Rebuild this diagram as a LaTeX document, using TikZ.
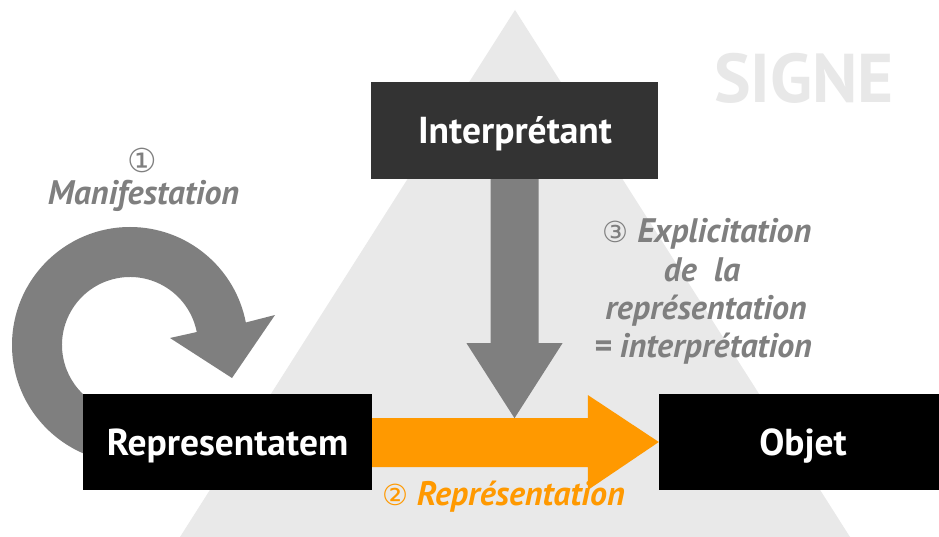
\documentclass[tikz,border=0pt]{standalone}
\usepackage{fontspec}
\setmainfont{PT Sans}
\newfontfamily\symfont{DejaVu Sans}
\usetikzlibrary{calc}
\definecolor{tri}{RGB}{233,233,233}
\definecolor{darkbox}{RGB}{51,51,51}
\definecolor{arrgray}{RGB}{127,127,127}
\definecolor{orng}{RGB}{255,153,0}
\definecolor{signe}{RGB}{232,232,232}
\begin{document}
\begin{tikzpicture}[x=1pt,y=-1pt,
  box/.style={inner sep=0pt, text=white, font=\fontsize{37.5}{40}\selectfont\bfseries},
  lbl/.style={inner sep=0pt, anchor=base, text=arrgray, font=\fontsize{34}{38}\selectfont\bfseries\itshape},
  circnum/.style={inner sep=0pt, font=\symfont\fontsize{33}{36}\selectfont}
]
\useasboundingbox (0,0) rectangle (939,537);
\fill[white] (0,0) rectangle (939,537);
% triangle
\fill[tri] (515,10) -- (850,537) -- (180,537) -- cycle;
\node[inner sep=0pt, anchor=base, text=signe, font=\fontsize{69}{72}\selectfont\bfseries] (signe) at (804,103) {SIGNE};
% circular arrow
\coordinate (cc) at (130,345);
\fill[arrgray] ($(cc)+(90:118)$) arc[start angle=90, end angle=349, radius=118]
  -- (275,315) -- (232,378) -- (170,338)
  -- ($(cc)+(349:68)$) arc[start angle=349, end angle=90, radius=68] -- cycle;
% boxes
\node[box, fill=darkbox, minimum width=287pt, minimum height=97pt] (interp) at (514.5,130.5) {};
\node[box, fill=black, minimum width=289pt, minimum height=96pt] (rep) at (227.5,442) {};
\node[box, fill=black, minimum width=288pt, minimum height=96pt] (obj) at (803,442) {};
\node[box, anchor=base] (tinterp) at (515,144) {Interprétant};
\node[box, anchor=base] (trep) at (227.5,455) {Representatem};
\node[box, anchor=base] (tobj) at (803,455) {Objet};
% orange arrow
\fill[orng] ($(rep.east)+(0,-24)$) -- ($(obj.west)+(-71,-24)$) -- ($(obj.west)+(-71,-47)$)
  -- (obj.west) -- ($(obj.west)+(-71,48)$) -- ($(obj.west)+(-71,25)$) -- ($(rep.east)+(0,25)$) -- cycle;
% down arrow
\coordinate (dtip) at ($(interp.south)+(0,239)$);
\fill[arrgray] ($(interp.south)+(-24,0)$) -- ($(interp.south)+(24,0)$) -- ($(interp.south)+(24,164)$)
  -- ($(interp.south)+(48,164)$) -- (dtip) -- ($(interp.south)+(-48,164)$) -- ($(interp.south)+(-24,164)$) -- cycle;
% labels
\node[circnum, text=arrgray] (n1) at (142.5,160) {①};
\node[lbl] (manif) at (143.5,205) {Manifestation};
\node[lbl] (l1) at (707,243) {{\symfont\mdseries\upshape\fontsize{29}{30}\selectfont ③} Explicitation};
\node[lbl] (l2) at (702,281) {de\ \ la};
\node[lbl] (l3) at (706,319) {représentation};
\node[lbl] (l4) at (703,357) {= interprétation};
\node[lbl, text=orng] (l5) at (503.5,505) {{\symfont\mdseries\upshape\fontsize{29}{30}\selectfont ②} Représentation};
\end{tikzpicture}
\end{document}
